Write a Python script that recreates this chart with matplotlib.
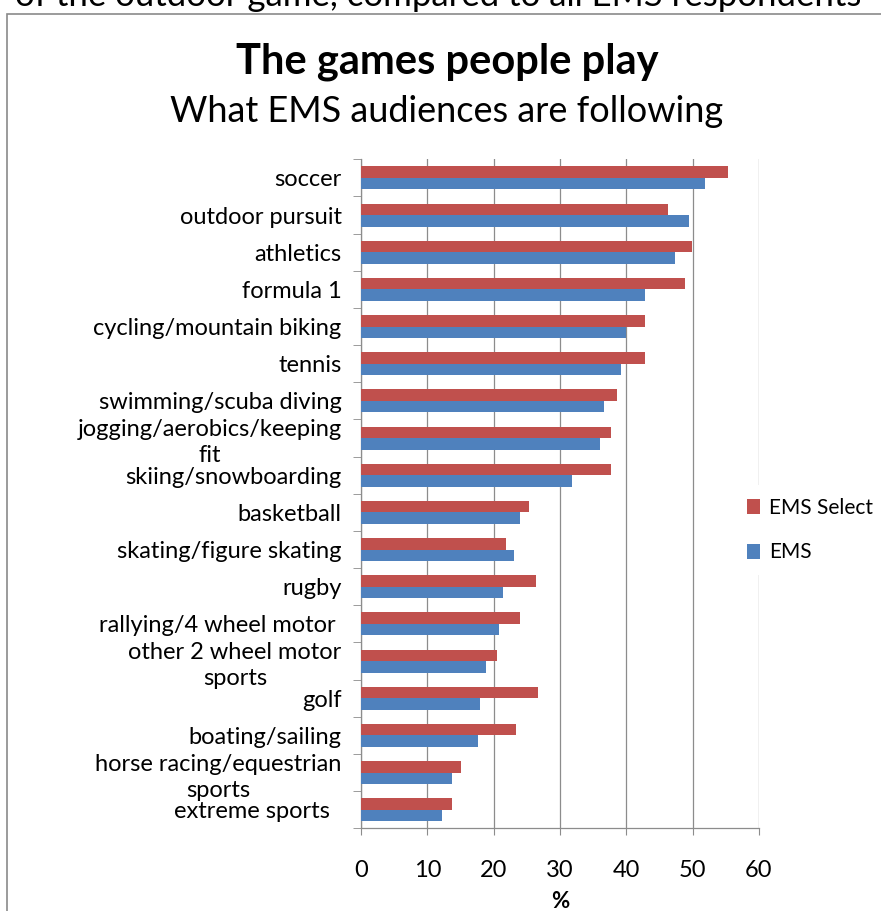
import numpy as np
import matplotlib
matplotlib.use("Agg")
import matplotlib.pyplot as plt
from matplotlib.patches import Rectangle

plt.rcParams['font.family'] = ['Lato', 'DejaVu Sans']

categories = [
    "soccer", "outdoor pursuit", "athletics", "formula 1",
    "cycling/mountain biking", "tennis", "swimming/scuba diving",
    "jogging/aerobics/keeping\nfit", "skiing/snowboarding", "basketball",
    "skating/figure skating", "rugby", "rallying/4 wheel motor\u00a0",
    "other 2 wheel motor\nsports", "golf", "boating/sailing",
    "horse racing/equestrian\nsports", "extreme sports\u00a0\u00a0",
]
ems_select = [55.3, 46.3, 49.9, 48.8, 42.8, 42.8, 38.6, 37.7, 37.7,
              25.3, 21.9, 26.4, 24.0, 20.5, 26.7, 23.4, 15.1, 13.7]
ems = [51.8, 49.4, 47.3, 42.8, 39.9, 39.2, 36.6, 36.0, 31.8,
       24.0, 23.1, 21.4, 20.8, 18.9, 17.9, 17.6, 13.7, 12.2]
xticks = [0, 10, 20, 30, 40, 50, 60]

red = '#C0504D'
blue = '#4F81BD'
grey = '#8c8c8c'

fig = plt.figure(figsize=(8.81, 9.11), dpi=100)

# chart frame (cut off on right and bottom)
fig.patches.append(Rectangle((7 / 881, -0.1), 1.1, 1 - 14 / 911 + 0.1,
                             transform=fig.transFigure, fill=False,
                             edgecolor='#8a8a8a', linewidth=1.2))

# text from the page above the chart, only its lower part is in view
fig.text(15 / 881, 1 + 4 / 911, "of the outdoor game, compared to all EMS respondents",
         fontsize=25, ha='left', va='center', color='black')

fig.text(447 / 881, 1 - 62 / 911, "The games people play", fontsize=30,
         fontweight='bold', ha='center', va='center')
fig.text(447 / 881, 1 - 112 / 911, "What EMS audiences are following",
         fontsize=26, ha='center', va='center')

ax = fig.add_axes([361 / 881, 82.7 / 911, 398 / 881, 669 / 911])

n = len(categories)
y = np.arange(n)
h = 0.31
ax.barh(y - h / 2, ems_select, height=h, color=red, label='EMS Select', zorder=3)
ax.barh(y + h / 2, ems, height=h, color=blue, label='EMS', zorder=3)

ax.set_ylim(n - 0.5, -0.5)
ax.set_xlim(0, 60)
ax.set_xticks(xticks)
ax.set_yticks(y)
ax.set_yticklabels(categories, fontsize=17, multialignment='center',
                   linespacing=1.3)
ax.set_yticks(np.arange(n + 1) - 0.5, minor=True)
ax.tick_params(axis='y', which='major', length=0, pad=14)
ax.tick_params(axis='y', which='minor', length=6, color=grey, direction='out')
ax.tick_params(axis='x', length=5, color=grey, direction='out', pad=18,
               labelsize=17)

ax.grid(axis='x', color=grey, linewidth=0.9, zorder=0)
for s in ['top', 'right']:
    ax.spines[s].set_visible(False)
for s in ['left', 'bottom']:
    ax.spines[s].set_color(grey)
    ax.spines[s].set_linewidth(0.9)

ax.set_xlabel('%', fontsize=16, fontweight='bold', labelpad=7)

leg = fig.legend(loc='center left', bbox_to_anchor=(734 / 881, 1 - 530 / 911),
                 frameon=True, fontsize=15, handlelength=0.67, handleheight=0.7,
                 labelspacing=1.2, borderpad=0.6, handletextpad=0.4,
                 borderaxespad=0)
leg.get_frame().set_edgecolor('none')
leg.get_frame().set_facecolor('white')
leg.get_frame().set_alpha(1)
leg.set_zorder(5)

fig.savefig('out.png', dpi=100)
